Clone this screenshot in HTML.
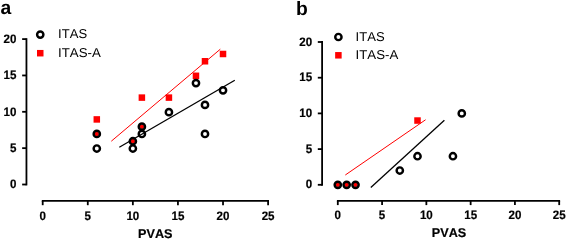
<!DOCTYPE html>
<html><head><meta charset="utf-8"><style>
html,body{margin:0;padding:0;background:#fff;}
body{width:567px;height:240px;overflow:hidden;}
svg{display:block;will-change:transform;}
text{font-family:"Liberation Sans",sans-serif;fill:#000;text-rendering:geometricPrecision;font-kerning:none;}
.tk{font-size:12.2px;font-weight:bold;stroke:#000;stroke-width:0.2px;}
.ax{font-size:12.6px;font-weight:bold;stroke:#000;stroke-width:0.2px;}
.lg{font-size:12.8px;}
.pl{font-size:19px;font-weight:bold;}
</style></head><body>
<svg width="567" height="240" viewBox="0 0 567 240">
<rect width="567" height="240" fill="#fff"/>
<line x1="26.45" y1="38.20" x2="26.45" y2="185.40" stroke="#000" stroke-width="1.8"/>
<line x1="22.15" y1="184.50" x2="26.45" y2="184.50" stroke="#000" stroke-width="1.8"/>
<text x="16.50" y="188" text-anchor="end" class="tk" textLength="6.44" lengthAdjust="spacingAndGlyphs">0</text>
<line x1="22.15" y1="148.15" x2="26.45" y2="148.15" stroke="#000" stroke-width="1.8"/>
<text x="16.50" y="152" text-anchor="end" class="tk" textLength="6.44" lengthAdjust="spacingAndGlyphs">5</text>
<line x1="22.15" y1="111.80" x2="26.45" y2="111.80" stroke="#000" stroke-width="1.8"/>
<text x="16.50" y="116" text-anchor="end" class="tk" textLength="12.89" lengthAdjust="spacingAndGlyphs">10</text>
<line x1="22.15" y1="75.45" x2="26.45" y2="75.45" stroke="#000" stroke-width="1.8"/>
<text x="16.50" y="79" text-anchor="end" class="tk" textLength="12.89" lengthAdjust="spacingAndGlyphs">15</text>
<line x1="22.15" y1="39.10" x2="26.45" y2="39.10" stroke="#000" stroke-width="1.8"/>
<text x="16.50" y="43" text-anchor="end" class="tk" textLength="12.89" lengthAdjust="spacingAndGlyphs">20</text>
<line x1="41.80" y1="200.90" x2="269.00" y2="200.90" stroke="#000" stroke-width="1.8"/>
<line x1="42.70" y1="200.90" x2="42.70" y2="205.20" stroke="#000" stroke-width="1.8"/>
<text x="42.70" y="220" text-anchor="middle" class="tk" textLength="6.44" lengthAdjust="spacingAndGlyphs">0</text>
<line x1="87.78" y1="200.90" x2="87.78" y2="205.20" stroke="#000" stroke-width="1.8"/>
<text x="87.78" y="220" text-anchor="middle" class="tk" textLength="6.44" lengthAdjust="spacingAndGlyphs">5</text>
<line x1="132.86" y1="200.90" x2="132.86" y2="205.20" stroke="#000" stroke-width="1.8"/>
<text x="132.86" y="220" text-anchor="middle" class="tk" textLength="12.89" lengthAdjust="spacingAndGlyphs">10</text>
<line x1="177.94" y1="200.90" x2="177.94" y2="205.20" stroke="#000" stroke-width="1.8"/>
<text x="177.94" y="220" text-anchor="middle" class="tk" textLength="12.89" lengthAdjust="spacingAndGlyphs">15</text>
<line x1="223.02" y1="200.90" x2="223.02" y2="205.20" stroke="#000" stroke-width="1.8"/>
<text x="223.02" y="220" text-anchor="middle" class="tk" textLength="12.89" lengthAdjust="spacingAndGlyphs">20</text>
<line x1="268.10" y1="200.90" x2="268.10" y2="205.20" stroke="#000" stroke-width="1.8"/>
<text x="268.10" y="220" text-anchor="middle" class="tk" textLength="12.89" lengthAdjust="spacingAndGlyphs">25</text>
<text x="138.05" y="238.00" class="ax" textLength="34.4" lengthAdjust="spacingAndGlyphs">PVAS</text>
<line x1="111.3" y1="141.2" x2="220.3" y2="49.2" stroke="#f00" stroke-width="1.0"/>
<line x1="119.3" y1="147.25" x2="234.8" y2="80.3" stroke="#000" stroke-width="1.3"/>
<rect x="93.55" y="116.17" width="6.5" height="6.5" fill="#f00"/>
<circle cx="96.80" cy="133.96" r="2.3" fill="#f00"/>
<circle cx="132.86" cy="141.23" r="2.3" fill="#f00"/>
<circle cx="141.88" cy="126.69" r="2.3" fill="#f00"/>
<rect x="138.63" y="94.36" width="6.5" height="6.5" fill="#f00"/>
<rect x="165.67" y="94.36" width="6.5" height="6.5" fill="#f00"/>
<rect x="192.72" y="72.55" width="6.5" height="6.5" fill="#f00"/>
<rect x="201.74" y="58.01" width="6.5" height="6.5" fill="#f00"/>
<rect x="219.77" y="50.74" width="6.5" height="6.5" fill="#f00"/>
<circle cx="96.80" cy="148.50" r="3.15" fill="none" stroke="#000" stroke-width="2.45"/>
<circle cx="96.80" cy="133.96" r="3.15" fill="none" stroke="#000" stroke-width="2.45"/>
<circle cx="132.86" cy="148.50" r="3.15" fill="none" stroke="#000" stroke-width="2.45"/>
<circle cx="132.86" cy="141.23" r="3.15" fill="none" stroke="#000" stroke-width="2.45"/>
<circle cx="141.88" cy="133.96" r="3.15" fill="none" stroke="#000" stroke-width="2.45"/>
<circle cx="141.88" cy="126.69" r="3.15" fill="none" stroke="#000" stroke-width="2.45"/>
<circle cx="168.92" cy="112.15" r="3.15" fill="none" stroke="#000" stroke-width="2.45"/>
<circle cx="195.97" cy="83.07" r="3.15" fill="none" stroke="#000" stroke-width="2.45"/>
<circle cx="204.99" cy="133.96" r="3.15" fill="none" stroke="#000" stroke-width="2.45"/>
<circle cx="204.99" cy="104.88" r="3.15" fill="none" stroke="#000" stroke-width="2.45"/>
<circle cx="223.02" cy="90.34" r="3.15" fill="none" stroke="#000" stroke-width="2.45"/>
<circle cx="40.25" cy="34.6" r="3.15" fill="none" stroke="#000" stroke-width="2.45"/>
<rect x="37.0" y="49.95" width="6.5" height="6.5" fill="#f00"/>
<text x="58.1" y="38.4" class="lg" textLength="29.0" lengthAdjust="spacingAndGlyphs">ITAS</text>
<text x="58.1" y="56.6" class="lg" textLength="42.7" lengthAdjust="spacingAndGlyphs">ITAS-A</text>
<text x="0.4" y="14.3" class="pl" style="font-size:19.3px">a</text>
<line x1="322.10" y1="41.10" x2="322.10" y2="185.70" stroke="#000" stroke-width="1.8"/>
<line x1="317.80" y1="184.80" x2="322.10" y2="184.80" stroke="#000" stroke-width="1.8"/>
<text x="312.10" y="188" text-anchor="end" class="tk" textLength="6.44" lengthAdjust="spacingAndGlyphs">0</text>
<line x1="317.80" y1="149.10" x2="322.10" y2="149.10" stroke="#000" stroke-width="1.8"/>
<text x="312.10" y="153" text-anchor="end" class="tk" textLength="6.44" lengthAdjust="spacingAndGlyphs">5</text>
<line x1="317.80" y1="113.40" x2="322.10" y2="113.40" stroke="#000" stroke-width="1.8"/>
<text x="312.10" y="117" text-anchor="end" class="tk" textLength="12.89" lengthAdjust="spacingAndGlyphs">10</text>
<line x1="317.80" y1="77.70" x2="322.10" y2="77.70" stroke="#000" stroke-width="1.8"/>
<text x="312.10" y="81" text-anchor="end" class="tk" textLength="12.89" lengthAdjust="spacingAndGlyphs">15</text>
<line x1="317.80" y1="42.00" x2="322.10" y2="42.00" stroke="#000" stroke-width="1.8"/>
<text x="312.10" y="46" text-anchor="end" class="tk" textLength="12.89" lengthAdjust="spacingAndGlyphs">20</text>
<line x1="336.90" y1="200.80" x2="560.10" y2="200.80" stroke="#000" stroke-width="1.8"/>
<line x1="337.80" y1="200.80" x2="337.80" y2="205.10" stroke="#000" stroke-width="1.8"/>
<text x="337.80" y="219" text-anchor="middle" class="tk" textLength="6.44" lengthAdjust="spacingAndGlyphs">0</text>
<line x1="382.08" y1="200.80" x2="382.08" y2="205.10" stroke="#000" stroke-width="1.8"/>
<text x="382.08" y="219" text-anchor="middle" class="tk" textLength="6.44" lengthAdjust="spacingAndGlyphs">5</text>
<line x1="426.36" y1="200.80" x2="426.36" y2="205.10" stroke="#000" stroke-width="1.8"/>
<text x="426.36" y="219" text-anchor="middle" class="tk" textLength="12.89" lengthAdjust="spacingAndGlyphs">10</text>
<line x1="470.64" y1="200.80" x2="470.64" y2="205.10" stroke="#000" stroke-width="1.8"/>
<text x="470.64" y="219" text-anchor="middle" class="tk" textLength="12.89" lengthAdjust="spacingAndGlyphs">15</text>
<line x1="514.92" y1="200.80" x2="514.92" y2="205.10" stroke="#000" stroke-width="1.8"/>
<text x="514.92" y="219" text-anchor="middle" class="tk" textLength="12.89" lengthAdjust="spacingAndGlyphs">20</text>
<line x1="559.20" y1="200.80" x2="559.20" y2="205.10" stroke="#000" stroke-width="1.8"/>
<text x="559.20" y="219" text-anchor="middle" class="tk" textLength="12.89" lengthAdjust="spacingAndGlyphs">25</text>
<text x="431.85" y="237.00" class="ax" textLength="34.4" lengthAdjust="spacingAndGlyphs">PVAS</text>
<line x1="345.3" y1="175" x2="425.6" y2="119.75" stroke="#f00" stroke-width="1.0"/>
<line x1="370.8" y1="187.4" x2="444.4" y2="120.25" stroke="#000" stroke-width="1.3"/>
<circle cx="337.80" cy="184.80" r="2.3" fill="#f00"/>
<circle cx="346.66" cy="184.80" r="2.3" fill="#f00"/>
<circle cx="355.51" cy="184.80" r="2.3" fill="#f00"/>
<rect x="414.25" y="117.29" width="6.5" height="6.5" fill="#f00"/>
<circle cx="337.80" cy="184.80" r="3.15" fill="none" stroke="#000" stroke-width="2.45"/>
<circle cx="346.66" cy="184.80" r="3.15" fill="none" stroke="#000" stroke-width="2.45"/>
<circle cx="355.51" cy="184.80" r="3.15" fill="none" stroke="#000" stroke-width="2.45"/>
<circle cx="399.79" cy="170.52" r="3.15" fill="none" stroke="#000" stroke-width="2.45"/>
<circle cx="417.50" cy="156.24" r="3.15" fill="none" stroke="#000" stroke-width="2.45"/>
<circle cx="452.93" cy="156.24" r="3.15" fill="none" stroke="#000" stroke-width="2.45"/>
<circle cx="461.78" cy="113.40" r="3.15" fill="none" stroke="#000" stroke-width="2.45"/>
<circle cx="338.4" cy="37" r="3.15" fill="none" stroke="#000" stroke-width="2.45"/>
<rect x="335.15" y="52.05" width="6.5" height="6.5" fill="#f00"/>
<text x="355.6" y="41.1" class="lg" textLength="29.0" lengthAdjust="spacingAndGlyphs">ITAS</text>
<text x="355.6" y="59.1" class="lg" textLength="42.7" lengthAdjust="spacingAndGlyphs">ITAS-A</text>
<text x="295.9" y="14.6" class="pl" style="font-size:19.3px">b</text>
</svg>
</body></html>
